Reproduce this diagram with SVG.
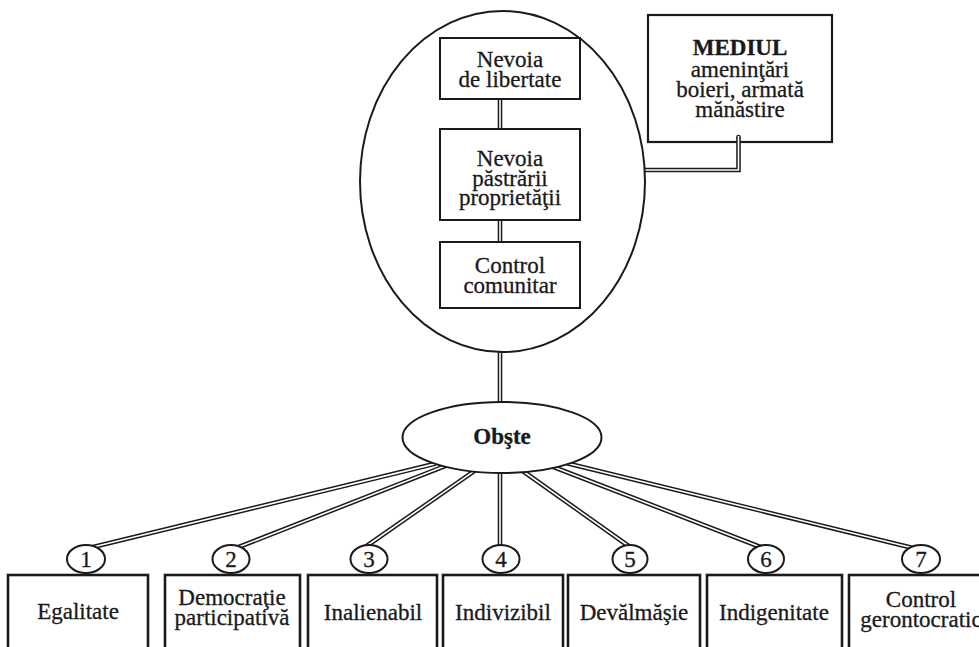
<svg xmlns="http://www.w3.org/2000/svg" width="979" height="647" viewBox="0 0 979 647">
<style>
text{font-size:23px;fill:#1a1a1a;stroke:#1a1a1a;stroke-width:0.3;text-anchor:middle}
.b{font-weight:bold}
.box{fill:#fff;stroke:#1a1a1a;stroke-width:2}
.bbox{fill:#fff;stroke:#1a1a1a;stroke-width:2.6}
.ell{fill:#fff;stroke:#1a1a1a;stroke-width:2}
.o{fill:none;stroke:#1a1a1a;stroke-width:4.6}
.i{fill:none;stroke:#fff;stroke-width:1.6}
</style>
<rect width="979" height="647" fill="#fff"/>
<g id="connectors">
<path class="o" d="M500,99V129M500,220V242M500,352V403M500,470V547M435.8,463.6L89,548M445.6,465.8L235,548.5M474.9,470.6L363,548.5M520,469L630,547M551,466L763,548M566,463L913,548"/>
<path class="i" d="M500,99V129M500,220V242M500,352V403M500,470V547M435.8,463.6L89,548M445.6,465.8L235,548.5M474.9,470.6L363,548.5M520,469L630,547M551,466L763,548M566,463L913,548"/>
</g>
<g font-family="'Liberation Serif', Tinos, 'Times New Roman', 'DejaVu Serif', serif">
<g id="environment">
<rect x="648" y="15" width="184" height="127" fill="#fff" stroke="#1a1a1a" stroke-width="2.2"/>
<text x="740" y="55" class="b">MEDIUL</text>
<text x="740" y="77">ameninţări</text>
<text x="740" y="97">boieri, armată</text>
<text x="740" y="117">mănăstire</text>
</g>
<g id="env-connector">
<path class="o" d="M644,170H738.5V137"/>
<circle cx="738.5" cy="137" r="2.3" fill="#1a1a1a"/>
<path class="i" d="M644,170H738.5V136"/>
</g>
<g id="community-needs">
<ellipse cx="502.5" cy="181.5" rx="142.5" ry="170.5" fill="none" stroke="#1a1a1a" stroke-width="2"/>
</g>
<g id="n-libertate">
<rect class="box" x="440" y="38" width="140" height="61"/>
<text x="510" y="67">Nevoia</text>
<text x="510" y="87">de libertate</text>
</g>
<g id="n-proprietate">
<rect class="box" x="440" y="129" width="140" height="91"/>
<text x="510" y="166">Nevoia</text>
<text x="510" y="186">păstrării</text>
<text x="510" y="205">proprietăţii</text>
</g>
<g id="n-control">
<rect class="box" x="440" y="242" width="140" height="66"/>
<text x="510" y="273">Control</text>
<text x="510" y="293">comunitar</text>
</g>
<g id="obste">
<ellipse class="ell" cx="502" cy="437.5" rx="99.5" ry="35.5"/>
<text x="502" y="444" class="b">Obşte</text>
</g>
<g id="item1">
<ellipse class="ell" cx="86" cy="559" rx="19" ry="14"/>
<text x="86" y="567">1</text>
<rect class="bbox" x="8" y="575" width="140" height="90"/>
<text x="78" y="619">Egalitate</text>
</g>
<g id="item2">
<ellipse class="ell" cx="231" cy="559" rx="18.5" ry="14"/>
<text x="231" y="567">2</text>
<rect class="bbox" x="165" y="575" width="135" height="90"/>
<text x="232" y="605">Democraţie</text>
<text x="232" y="625">participativă</text>
</g>
<g id="item3">
<ellipse class="ell" cx="369" cy="559" rx="18.5" ry="14"/>
<text x="369" y="567">3</text>
<rect class="bbox" x="308" y="575" width="129" height="90"/>
<text x="373" y="620">Inalienabil</text>
</g>
<g id="item4">
<ellipse class="ell" cx="501" cy="559" rx="18.5" ry="14"/>
<text x="501" y="567">4</text>
<rect class="bbox" x="443" y="575" width="120" height="90"/>
<text x="503" y="620">Indivizibil</text>
</g>
<g id="item5">
<ellipse class="ell" cx="630" cy="559" rx="17.5" ry="14"/>
<text x="630" y="567">5</text>
<rect class="bbox" x="568" y="575" width="132" height="90"/>
<text x="634" y="620">Devălmăşie</text>
</g>
<g id="item6">
<ellipse class="ell" cx="766" cy="559" rx="18" ry="14"/>
<text x="766" y="567">6</text>
<rect class="bbox" x="707" y="575" width="135" height="90"/>
<text x="774" y="620">Indigenitate</text>
</g>
<g id="item7">
<ellipse class="ell" cx="921" cy="559" rx="19" ry="14"/>
<text x="921" y="567">7</text>
<rect class="bbox" x="849" y="575" width="150" height="90"/>
<text x="921" y="607">Control</text>
<text x="921" y="627">gerontocratic</text>
</g>
</g>
</svg>
